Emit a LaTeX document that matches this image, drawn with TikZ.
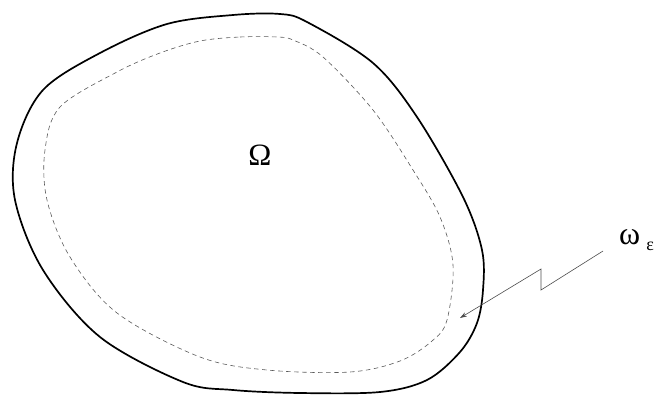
\documentclass[tikz,border=0pt]{standalone}
\usepackage{fontspec}
\setmainfont{Liberation Serif}
\usetikzlibrary{arrows.meta}
\tikzset{
  boundary/.style={line width=1.7pt, black, line join=round},
  inner/.style={line width=0.6pt, black!65, dash pattern=on 4.5pt off 3.5pt},
  pointer/.style={line width=0.6pt, black!70, -{Stealth[length=7pt,width=4.5pt]}},
}
\begin{document}
\begin{tikzpicture}[x=1pt,y=-1pt]
\useasboundingbox (0,0) rectangle (656,394);
% outer boundary of Omega
\draw[boundary] plot[smooth cycle, tension=0.55] coordinates {
 (167,24) (233,15) (280,14) (307,22) (373,63) (417,117) (463,197)
 (482,250) (483,290) (477,323) (460,352) (427,380) (380,392) (300,393) (233,390) (183,382)
 (100,337) (43,270) (15,200) (17,143) (43,90) (100,53)};
% inner dashed curve
\draw[inner] plot[smooth cycle, tension=0.55] coordinates {
 (200,41) (240,37) (277,37) (293,40) (323,57) (373,110) (413,170)
 (440,217) (453,265) (447,320) (432,341) (400,361) (350,372) (267,370) (200,357)
 (117,313) (70,257) (47,200) (45,150) (60,107) (117,72) (160,53)};
% labels
\node (om) at (260,155) {\fontsize{31}{34}\selectfont Ω};
\node[anchor=base west, inner sep=0pt] (lab) at (619,244)
  {\fontsize{32}{34}\selectfont ω\hspace{6pt}\raisebox{-6pt}{\fontsize{18}{20}\selectfont ε}};
% zig-zag pointer
\coordinate (p0) at (603,251);
\coordinate (p1) at (541,290);
\coordinate (p2) at (541,269);
\coordinate (tip) at (460,318);
\draw[pointer] (p0) -- (p1) -- (p2) -- (tip);
\end{tikzpicture}
\end{document}
